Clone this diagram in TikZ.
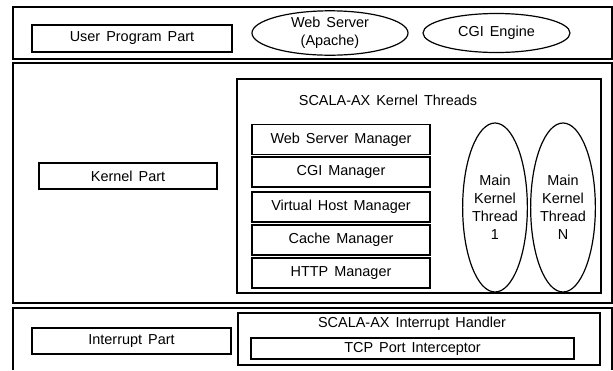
\documentclass[tikz,border=0pt]{standalone}
\usepackage{fontspec}
\setmainfont{Liberation Sans}
\usetikzlibrary{shapes.geometric}

\newcommand\diagfont{\fontsize{14.5}{18}\selectfont\spaceskip=6bp plus 1bp\relax}

\tikzset{
	box/.style={draw, rectangle, inner sep=0pt, minimum height=#1},
	box/.default=30bp,
	thread/.style={draw, ellipse, inner sep=0pt, align=center, minimum width=63bp, minimum height=169bp}
}

\begin{document}
\begin{tikzpicture}[x=1bp, y=-1bp, line width=1.2bp, font=\diagfont]
	\useasboundingbox (0,0) rectangle (613,370);
	\draw (13,7) rectangle (612,59);
	\draw (13,63) rectangle (612,303);
	\draw (13,370) -- (13,308) -- (612,308) -- (612,370);
	\draw (237,79) rectangle (601,293);
	\draw (238,313) rectangle (600,365);

	\node[box=27bp, minimum width=200bp] (upp) at (132,38.5) {User Program Part};
	\node[draw, ellipse, inner sep=0pt, align=center, minimum width=156bp, minimum height=39bp] (websrv) at (330,33) {Web Server\\(Apache)};
	\node[draw, ellipse, inner sep=0pt, minimum width=147bp, minimum height=39bp] (cgieng) at (496.5,33) {CGI Engine};

	\node[box=26bp, minimum width=178bp] (kernelpart) at (128,176) {Kernel Part};
	\node (ktitle) at (388,100) {SCALA-AX Kernel Threads};
	\node[box, minimum width=178bp] (wsm) at (341,139.5) {Web Server Manager};
	\node[box, minimum width=178bp] (cgim) at (341,172) {CGI Manager};
	\node[box, minimum width=178bp] (vhm) at (341,207) {Virtual Host Manager};
	\node[box, minimum width=178bp] (cachem) at (341,240) {Cache Manager};
	\node[box, minimum width=178bp] (httpm) at (341,273) {HTTP Manager};
	\node[thread, minimum width=64bp] (mkt1) at (495,207.5) {Main\\Kernel\\Thread\\1};
	\node[thread, minimum width=62bp] (mktn) at (563,207.5) {Main\\Kernel\\Thread\\N};

	\node[box=26bp, minimum width=199bp] (intpart) at (131.5,341) {Interrupt Part};
	\node (ihandler) at (412,324) {SCALA-AX Interrupt Handler};
	\node[box=21bp, minimum width=323bp] (tcp) at (412.5,348.5) {TCP Port Interceptor};
\end{tikzpicture}
\end{document}
